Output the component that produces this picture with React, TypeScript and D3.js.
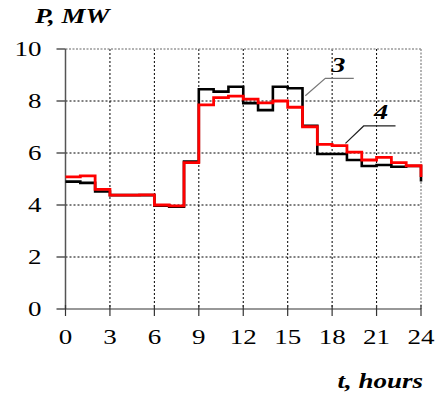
import React from "react";
import * as d3 from "d3";

const hours = d3.range(0, 25);
const series3 = [4.9, 4.85, 4.52, 4.38, 4.38, 4.38, 3.97, 3.93, 5.67, 8.45, 8.36, 8.55, 7.92, 7.65, 8.55, 8.49, 7.05, 5.96, 5.96, 5.73, 5.5, 5.54, 5.47, 5.5, 4.9];
const series4 = [5.08, 5.12, 4.6, 4.38, 4.38, 4.39, 4.0, 3.97, 5.63, 7.85, 8.13, 8.19, 8.07, 7.93, 8.0, 7.76, 7.01, 6.33, 6.28, 6.03, 5.73, 5.83, 5.63, 5.51, 5.08];
const xTicks = [0, 3, 6, 9, 12, 15, 18, 21, 24];
const yTicks = [0, 2, 4, 6, 8, 10];
const labels = [
  { text: "3", from: [16.19, 8.2], elbow: [17.54, 8.87], end: 19.46, tx: 18.42, ty: 9.1, stroke: "#777" },
  { text: "4", from: [18.9, 6.37], elbow: [20.13, 7.04], end: 22.28, tx: 21.31, ty: 7.29, stroke: "#222" },
];

const SX = 1.35;
const FONT = "'Liberation Serif', 'Times New Roman', serif";

function T(props: { x: number; y: number; anchor?: string; size?: number; bold?: boolean; children: any }) {
  const { x, y, anchor = "start", size = 20, bold = false, children } = props;
  return (
    <text
      transform={`translate(${x},${y}) scale(${SX},1)`}
      textAnchor={anchor}
      style={{ fontFamily: FONT }}
      fontSize={size}
      fontWeight={bold ? "bold" : "normal"}
      fontStyle={bold ? "italic" : "normal"}
      fill="#000"
    >
      {children}
    </text>
  );
}

export default function App() {
  const W = 438, H = 394;
  const x = d3.scaleLinear().domain([0, 24]).range([65.5, 421]);
  const y = d3.scaleLinear().domain([0, 10]).range([309, 49]);
  const line = (vals: number[]) =>
    d3.line<number>().x((_, i) => x(hours[i])).y((d) => y(d)).curve(d3.curveStepAfter)(vals) || "";
  return (
    <svg width={W} height={H} style={{ position: "absolute", left: 0, top: 0, background: "#fff" }}>
      {/* grid */}
      {xTicks.slice(1, -1).map((t) => (
        <line key={"gx" + t} x1={x(t)} x2={x(t)} y1={y(10)} y2={y(0)} stroke="#000" strokeWidth={1} strokeDasharray="2,2" />
      ))}
      {yTicks.slice(1, -1).map((t) => (
        <line key={"gy" + t} x1={x(0)} x2={x(24)} y1={y(t)} y2={y(t)} stroke="#000" strokeWidth={1} strokeDasharray="2,2" />
      ))}
      <line x1={x(0)} x2={x(24)} y1={y(10)} y2={y(10)} stroke="#999" strokeWidth={1.5} strokeDasharray="2,1.5" />
      <line x1={x(24)} x2={x(24)} y1={y(10)} y2={y(0)} stroke="#999" strokeWidth={1.5} strokeDasharray="2,1.5" />
      {/* axes */}
      <line x1={x(0)} x2={x(0)} y1={y(10)} y2={y(0)} stroke="#555" strokeWidth={1.5} />
      <line x1={x(0)} x2={x(24)} y1={y(0)} y2={y(0)} stroke="#333" strokeWidth={1.2} />
      {yTicks.map((t) => (
        <g key={"yt" + t}>
          <line x1={x(0) - 9} x2={x(0)} y1={y(t)} y2={y(t)} stroke="#555" strokeWidth={1.5} />
          <T x={41.5} y={y(t) + 7} anchor="end">{t}</T>
        </g>
      ))}
      {xTicks.map((t) => (
        <g key={"xt" + t}>
          <line x1={x(t)} x2={x(t)} y1={y(0) - 4} y2={y(0) + 7} stroke="#333" strokeWidth={1.2} />
          <T x={x(t)} y={344} anchor="middle">{t}</T>
        </g>
      ))}
      {/* series */}
      <path d={line(series3)} fill="none" stroke="#000" strokeWidth={2.6} />
      <path d={line(series4)} fill="none" stroke="#ff0000" strokeWidth={2.8} />
      {/* annotations */}
      {labels.map((l) => (
        <g key={l.text}>
          <polyline
            points={`${x(l.from[0])},${y(l.from[1])} ${x(l.elbow[0])},${y(l.elbow[1])} ${x(l.end)},${y(l.elbow[1])}`}
            fill="none" stroke={l.stroke} strokeWidth={1.2} />
          <T x={x(l.tx)} y={y(l.ty)} anchor="middle" size={21} bold>{l.text}</T>
        </g>
      ))}
      <T x={35} y={23} bold>P, MW</T>
      <T x={423} y={388} anchor="end" bold>t, hours</T>
    </svg>
  );
}
